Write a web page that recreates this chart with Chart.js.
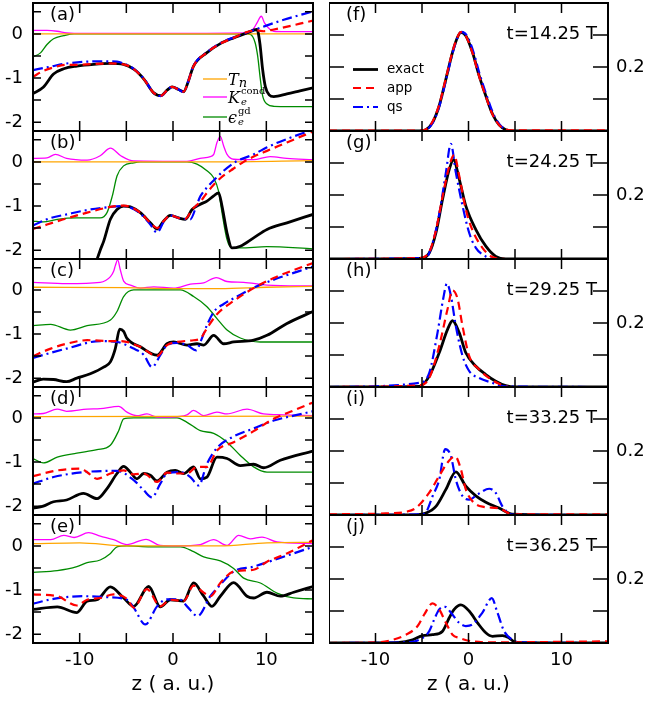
<!DOCTYPE html>
<html lang="en">
<head>
<meta charset="UTF-8">
<title>exact / app / qs panels</title>
<script src="https://cdn.jsdelivr.net/npm/chart.js"></script>
<style>
  body { margin: 0; background: #fff; width: 649px; height: 702px; position: relative; overflow: hidden; }
  canvas { position: absolute; }
</style>
</head>
<body>
<script>
// ---- left column (a)-(e): T_n, K_e^cond, eps_e^gd, exact, app, qs ----
const a_T_z = [-15, 15];
const a_T_y = [0, 0];
const a_K_z = [-15, -13.5, -12.4, -11.4, -10.6, -8, 0, 7.9, 8.6, 9.0, 9.46, 9.8, 10.4, 10.8, 12, 15];
const a_K_y = [0.08, 0.08, 0.06, 0.02, 0.01, 0.01, 0.01, 0.02, 0.11, 0.25, 0.40, 0.25, 0.1, 0.06, 0.05, 0.05];
const a_E_z = [-15, -14.2, -13.5, -12.8, -11.7, -10.6, 8.0, 8.3, 8.8, 9.07, 9.36, 9.6, 10.07, 10.8, 15];
const a_E_y = [-0.52, -0.43, -0.24, -0.11, -0.04, 0, 0, -0.01, -0.2, -0.5, -1.03, -1.4, -1.59, -1.64, -1.65];
const a_X_z = [-15, -13.9, -12.8, -11.7, -10.3, -8.5, -6.7, -5.3, -4.2, -3.1, -2.1, -1.3, -0.6, -0.1, 0.6, 1.14, 1.6, 2.2, 3.6, 5.07, 6.5, 7.9, 9.0, 9.3, 9.6, 9.9, 10.3, 10.8, 12.2, 13.6, 15];
const a_X_y = [-1.35, -1.21, -0.91, -0.79, -0.73, -0.69, -0.67, -0.69, -0.8, -1.03, -1.33, -1.40, -1.27, -1.2, -1.26, -1.31, -1.1, -0.73, -0.43, -0.22, -0.09, 0.02, 0.1, -0.2, -0.8, -1.2, -1.38, -1.42, -1.36, -1.29, -1.22];
const a_P_z = [-15, -13.9, -12.8, -11.4, -10.3, -8.5, -6.7, -5.3, -4.2, -3.1, -2.1, -1.3, -0.6, -0.1, 0.6, 1.14, 1.6, 2.2, 3.6, 5.07, 6.5, 7.9, 9.0, 9.7, 10.8, 15];
const a_P_y = [-0.97, -0.84, -0.76, -0.70, -0.70, -0.68, -0.67, -0.69, -0.8, -1.03, -1.33, -1.40, -1.27, -1.2, -1.26, -1.31, -1.1, -0.73, -0.43, -0.22, -0.09, 0.04, 0.08, 0.06, 0.10, 0.30];
const a_Q_z = [-15, -13.1, -11.4, -7.8, -6.0, -5.3, -4.2, -3.1, -2.1, -1.3, -0.6, -0.1, 0.6, 1.14, 1.6, 2.2, 3.6, 5.07, 6.5, 7.9, 9.36, 11.86, 15];
const a_Q_y = [-0.82, -0.74, -0.67, -0.62, -0.63, -0.67, -0.79, -1.02, -1.33, -1.41, -1.27, -1.2, -1.26, -1.32, -1.1, -0.72, -0.42, -0.21, -0.08, 0.03, 0.14, 0.32, 0.51];

const b_T_z = [-15, 5, 15];
const b_T_y = [0, 0, 0.03];
const b_K_z = [-15, -13.5, -12.6, -11.4, -9.2, -7.8, -6.7, -5.6, -4.2, 1.5, 2.9, 4.0, 4.36, 4.71, 5.07, 5.43, 5.79, 6.5, 8.6, 10.4, 12.2, 15];
const b_K_y = [0.08, 0.09, 0.17, 0.08, 0.04, 0.14, 0.31, 0.14, 0.02, 0.01, 0.08, 0.12, 0.17, 0.44, 0.58, 0.36, 0.17, 0.06, 0.05, 0.12, 0.08, 0.05];
const b_E_z = [-15, -13.9, -12.4, -10.3, -7.8, -7.07, -6.5, -6.0, -5.3, -4.2, -3.5, 1.5, 2.57, 3.64, 4.36, 4.89, 5.25, 5.79, 6.32, 7.21, 10.07, 15];
const b_E_y = [-1.34, -1.36, -1.3, -1.27, -1.27, -1.15, -0.77, -0.32, -0.09, -0.02, 0, 0, -0.05, -0.2, -0.36, -0.67, -1.15, -1.76, -1.95, -1.95, -1.92, -1.97];
const b_X_z = [-8.9, -7.8, -7.43, -6.71, -6.0, -5.29, -4.57, -3.5, -2.43, -1.71, -1.0, -0.29, 0.61, 1.32, 2.04, 2.93, 3.64, 4.36, 4.89, 5.25, 5.79, 6.32, 7.21, 8.64, 10.07, 12.21, 15];
const b_X_y = [-2.7, -2.0, -1.8, -1.30, -1.08, -1.0, -1.02, -1.15, -1.38, -1.52, -1.34, -1.21, -1.27, -1.3, -1.08, -0.96, -0.89, -0.77, -0.70, -1.0, -1.61, -1.95, -1.91, -1.72, -1.53, -1.38, -1.19];
const b_P_z = [-15, -13.5, -11.4, -9.2, -6.7, -5.29, -4.57, -3.5, -2.43, -1.71, -1.0, -0.29, 0.61, 1.32, 2.04, 2.93, 3.64, 4.36, 5.07, 6.5, 7.57, 8.64, 10.07, 12.21, 15];
const b_P_y = [-1.52, -1.42, -1.28, -1.15, -1.02, -0.99, -1.02, -1.15, -1.38, -1.5, -1.34, -1.21, -1.27, -1.29, -1.08, -0.9, -0.7, -0.52, -0.37, -0.15, 0.0, 0.12, 0.25, 0.44, 0.69];
const b_Q_z = [-15, -13.1, -11.4, -9.2, -6.7, -5.29, -4.57, -3.5, -2.43, -1.71, -1.0, -0.29, 0.61, 1.86, 2.5, 2.93, 3.64, 4.36, 5.43, 6.7, 8.64, 10.07, 12.21, 14.18, 15];
const b_Q_y = [-1.44, -1.27, -1.19, -1.09, -1.02, -1.0, -1.03, -1.17, -1.42, -1.6, -1.36, -1.21, -1.27, -1.3, -1.0, -0.78, -0.58, -0.42, -0.2, 0.0, 0.17, 0.33, 0.52, 0.67, 0.73];

const c_T_z = [-15, -5, 0, 5, 10, 15];
const c_T_y = [0.06, 0.05, 0.03, 0.03, 0.06, 0.08];
const c_K_z = [-15, -11.4, -7.8, -6.7, -6.36, -6.18, -5.93, -5.64, -5.29, -4.57, -3.5, -2.07, 0.07, 1.86, 3.29, 4.64, 5.79, 7.57, 10.07, 15];
const c_K_y = [0.17, 0.14, 0.17, 0.3, 0.42, 0.55, 0.68, 0.45, 0.2, 0.11, 0.04, 0.07, 0.04, 0.13, 0.16, 0.28, 0.19, 0.17, 0.11, 0.09];
const c_E_z = [-15, -13.1, -11.0, -9.2, -6.7, -6.0, -5.29, -4.21, 0.79, 2.21, 3.64, 4.71, 5.79, 7.21, 9.36, 15];
const c_E_y = [-0.81, -0.78, -0.91, -0.81, -0.68, -0.49, -0.15, 0, 0, -0.15, -0.38, -0.65, -0.91, -1.09, -1.18, -1.18];
const c_X_z = [-15, -13.9, -12.8, -11.4, -10.3, -8.86, -7.43, -6.71, -6.18, -5.71, -5.29, -4.93, -3.5, -1.71, -0.64, 0.07, 1.5, 2.57, 3.29, 4.36, 5.43, 6.5, 8.64, 10.07, 12.21, 15];
const c_X_y = [-2.09, -2.02, -2.03, -2.08, -2.0, -1.9, -1.75, -1.63, -1.33, -0.89, -0.94, -1.1, -1.29, -1.48, -1.22, -1.18, -1.25, -1.22, -1.25, -1.03, -1.22, -1.18, -1.14, -1.03, -0.76, -0.49];
const c_P_z = [-15, -13.1, -11.4, -9.2, -6.7, -5.64, -3.5, -1.71, -0.64, 0.43, 2.21, 2.93, 3.64, 4.71, 6.5, 8.64, 10.79, 15];
const c_P_y = [-1.5, -1.33, -1.22, -1.14, -1.16, -1.16, -1.29, -1.5, -1.25, -1.18, -1.14, -1.1, -0.87, -0.55, -0.25, 0.04, 0.27, 0.61];
const c_Q_z = [-15, -11.4, -7.8, -6.0, -4.21, -3.14, -2.25, -1.36, -0.64, 0.43, 1.5, 2.5, 3.0, 3.64, 4.36, 5.43, 6.86, 8.64, 10.79, 15];
const c_Q_y = [-1.54, -1.33, -1.16, -1.18, -1.33, -1.47, -1.75, -1.48, -1.25, -1.2, -1.25, -1.37, -1.15, -0.8, -0.5, -0.32, -0.15, 0.05, 0.23, 0.53];

const d_T_z = [-15, 15];
const d_T_y = [0.03, 0.04];
const d_K_z = [-15, -13.9, -12.4, -11.4, -9.2, -7.8, -5.82, -4.93, -3.86, -2.79, -1.71, -0.29, 1.5, 2.21, 3.29, 4.71, 5.79, 7.93, 9.71, 11.86, 15];
const d_K_y = [0.09, 0.1, 0.2, 0.15, 0.2, 0.21, 0.26, 0.13, 0.05, 0.09, 0.02, 0.02, 0.07, 0.17, 0.05, 0.13, 0.09, 0.2, 0.09, 0.07, 0.05];
const d_E_z = [-15, -13.9, -12.4, -10.3, -8.14, -6.71, -5.82, -5.29, -4.21, 0.43, 1.5, 2.93, 4.36, 5.79, 7.21, 8.64, 10.07, 15];
const d_E_y = [-0.92, -1.02, -0.89, -0.8, -0.72, -0.62, -0.29, -0.02, 0, 0, -0.1, -0.29, -0.35, -0.55, -0.85, -1.11, -1.23, -1.23];
const d_X_z = [-15, -13.9, -12.8, -11.4, -9.6, -8.14, -7.07, -6.0, -5.29, -4.57, -3.86, -3.14, -2.43, -1.71, -0.64, 0.25, 1.14, 2.21, 2.93, 3.64, 4.71, 5.79, 7.21, 8.64, 9.71, 11.5, 15];
const d_X_y = [-2.05, -2.0, -1.9, -1.86, -1.71, -1.83, -1.6, -1.26, -1.1, -1.23, -1.38, -1.26, -1.3, -1.43, -1.23, -1.19, -1.26, -1.11, -1.38, -1.34, -0.89, -0.92, -1.08, -1.05, -1.13, -0.96, -0.75];
const d_P_z = [-15, -12.4, -9.9, -9.2, -8.14, -6.71, -5.29, -4.21, -3.14, -1.71, -0.64, 0.43, 1.5, 2.57, 3.64, 4.71, 6.5, 8.64, 10.79, 12.93, 15];
const d_P_y = [-1.32, -1.19, -1.15, -1.23, -1.38, -1.26, -1.19, -1.28, -1.26, -1.45, -1.24, -1.26, -1.26, -1.11, -1.11, -0.74, -0.55, -0.3, -0.02, 0.17, 0.35];
const d_Q_z = [-15, -12.8, -9.6, -6.0, -4.21, -3.14, -2.25, -1.36, -0.64, 0.79, 1.86, 2.75, 3.64, 4.71, 6.5, 8.64, 10.79, 12.93, 15];
const d_Q_y = [-1.49, -1.34, -1.23, -1.2, -1.41, -1.64, -1.8, -1.49, -1.26, -1.23, -1.34, -1.53, -1.04, -0.68, -0.42, -0.24, -0.06, 0.05, 0.15];

const e_T_z = [-15, -10, -5, 0, 5, 10.07, 15];
const e_T_y = [0.05, 0.07, 0.0, 0.0, 0.0, 0.07, 0.08];
const e_K_z = [-15, -13.1, -11.7, -10.6, -9.04, -7.79, -6.36, -4.93, -2.89, -1.36, 0.43, 2.93, 4.36, 5.79, 7.04, 8.29, 9.54, 11.14, 15];
const e_K_y = [0.14, 0.14, 0.24, 0.19, 0.3, 0.22, 0.14, 0.03, 0.15, 0.01, 0, 0.03, 0.14, 0.01, 0.24, 0.16, 0.2, 0.09, 0.05];
const e_E_z = [-15, -12.4, -10.3, -9.2, -7.8, -6.7, -6.0, -4.93, -2.43, 0.79, 2.21, 3.29, 5.07, 6.5, 7.57, 9.36, 11.14, 12.93, 15];
const e_E_y = [-0.6, -0.56, -0.47, -0.38, -0.32, -0.17, -0.02, 0, -0.02, -0.02, -0.13, -0.25, -0.34, -0.51, -0.73, -0.84, -1.07, -1.18, -1.2];
const e_X_z = [-15, -12.4, -10.3, -9.2, -8.14, -6.71, -5.29, -4.21, -2.61, -1.36, -0.29, 1.14, 2.21, 3.29, 4.18, 5.07, 6.5, 7.93, 8.64, 10.07, 11.5, 12.93, 15];
const e_X_y = [-1.44, -1.38, -1.51, -1.25, -1.22, -0.93, -1.18, -1.37, -0.92, -1.38, -1.22, -1.25, -0.84, -1.14, -1.37, -1.14, -0.83, -1.14, -1.18, -1.05, -1.14, -1.05, -0.92];
const e_P_z = [-15, -12.4, -10.3, -9.2, -7.8, -6.36, -4.93, -4.21, -2.79, -1.36, -0.29, 1.14, 2.21, 3.29, 4.0, 5.07, 6.5, 8.64, 10.07, 12.21, 15];
const e_P_y = [-1.1, -1.14, -1.35, -1.22, -1.18, -1.1, -1.2, -1.4, -0.98, -1.37, -1.22, -1.25, -0.9, -1.06, -1.14, -0.84, -0.58, -0.54, -0.36, -0.17, 0.13];
const e_Q_z = [-15, -12.8, -9.6, -7.07, -4.93, -4.21, -2.96, -1.71, -0.64, 0.79, 1.5, 2.64, 4.0, 5.07, 6.5, 8.64, 10.79, 12.93, 15];
const e_Q_y = [-1.31, -1.2, -1.14, -1.16, -1.22, -1.4, -1.78, -1.37, -1.21, -1.22, -1.37, -1.59, -1.14, -0.88, -0.58, -0.47, -0.32, -0.17, -0.02];

// ---- right column (f)-(j): exact, app, qs densities ----
const f_X_z = [-15, -5.3, -4.58, -3.86, -3.15, -2.43, -1.72, -1.18, -0.82, -0.29, 0.43, 1.14, 1.86, 2.58, 3.29, 4.0, 4.7, 15];
const f_X_y = [0, 0, 0.004, 0.027, 0.079, 0.162, 0.246, 0.293, 0.308, 0.298, 0.246, 0.173, 0.11, 0.053, 0.019, 0.004, 0, 0];
const f_P_z = [-15, -5.3, -4.58, -3.86, -3.15, -2.43, -1.72, -1.18, -0.82, -0.29, 0.43, 1.14, 1.86, 2.58, 3.29, 4.0, 4.7, 15];
const f_P_y = [0.001, 0.001, 0.005, 0.03, 0.082, 0.165, 0.248, 0.294, 0.309, 0.297, 0.244, 0.171, 0.108, 0.052, 0.019, 0.005, 0.002, 0.002];
const f_Q_z = [-15, -5.3, -4.58, -3.86, -3.15, -2.43, -1.72, -1.18, -0.75, -0.22, 0.5, 1.2, 1.93, 2.65, 3.36, 4.1, 4.8, 15];
const f_Q_y = [0, 0, 0.003, 0.025, 0.076, 0.158, 0.243, 0.292, 0.31, 0.3, 0.25, 0.178, 0.113, 0.055, 0.02, 0.004, 0, 0];

const g_X_z = [-15, -5.29, -4.22, -3.5, -2.79, -2.07, -1.61, -1.0, -0.29, 0.79, 1.86, 2.93, 4.0, 15];
const g_X_y = [0, 0.002, 0.019, 0.082, 0.187, 0.28, 0.31, 0.25, 0.166, 0.092, 0.04, 0.008, 0, 0];
const g_P_z = [-15, -5.29, -4.22, -3.5, -2.79, -2.07, -1.54, -1.0, -0.29, 0.43, 1.5, 2.58, 4.0, 15];
const g_P_y = [0, 0.003, 0.022, 0.09, 0.195, 0.29, 0.325, 0.26, 0.155, 0.09, 0.035, 0.006, 0, 0];
const g_Q_z = [-15, -4.58, -3.86, -3.15, -2.43, -1.9, -1.36, -0.64, 0.07, 0.79, 1.86, 3.0, 15];
const g_Q_y = [0, 0.004, 0.05, 0.14, 0.27, 0.36, 0.27, 0.166, 0.082, 0.035, 0.008, 0, 0];

const h_X_z = [-15, -5.29, -4.22, -3.15, -2.25, -1.72, -1.0, -0.29, 0.79, 1.86, 2.93, 4.0, 5.08, 15];
const h_X_y = [0, 0.002, 0.034, 0.107, 0.18, 0.207, 0.17, 0.107, 0.065, 0.039, 0.018, 0.004, 0, 0];
const h_P_z = [-15, -5.29, -4.22, -3.15, -2.25, -1.72, -1.18, -0.64, 0.07, 1.14, 2.22, 3.29, 4.36, 15];
const h_P_y = [0, 0.005, 0.028, 0.128, 0.244, 0.302, 0.276, 0.19, 0.097, 0.055, 0.028, 0.01, 0, 0];
const h_Q_z = [-15, -5.29, -4.22, -3.33, -2.72, -2.32, -1.9, -1.36, -0.64, 0.07, 1.14, 2.58, 4.0, 15];
const h_Q_y = [0, 0.013, 0.044, 0.17, 0.276, 0.323, 0.286, 0.19, 0.097, 0.05, 0.028, 0.013, 0.002, 0];

const i_X_z = [-15, -6, -4.58, -3.5, -2.43, -1.36, -0.29, 0.79, 1.86, 3.29, 4.72, 15];
const i_X_y = [0, 0, 0.006, 0.027, 0.08, 0.135, 0.09, 0.06, 0.04, 0.022, 0.003, 0];
const i_P_z = [-15, -8.87, -6.72, -5.65, -4.22, -3.15, -2.25, -1.43, -0.82, -0.29, 0.43, 1.5, 3.29, 4.72, 15];
const i_P_y = [0.002, 0.005, 0.01, 0.022, 0.07, 0.122, 0.164, 0.183, 0.143, 0.08, 0.043, 0.026, 0.021, 0.002, 0.002];
const i_Q_z = [-15, -5.0, -4.5, -3.86, -3.15, -2.5, -1.9, -1.36, -0.64, 0.07, 0.97, 2.22, 2.93, 3.65, 4.72, 15];
const i_Q_y = [0, 0.002, 0.012, 0.059, 0.11, 0.206, 0.185, 0.11, 0.059, 0.048, 0.064, 0.082, 0.069, 0.027, 0.001, 0];

const j_X_z = [-15, -7.44, -6.01, -4.94, -3.86, -2.79, -2.07, -1.54, -0.82, 0.07, 0.97, 1.86, 2.58, 3.65, 4.36, 5.08, 15];
const j_X_y = [0, 0.002, 0.01, 0.023, 0.026, 0.037, 0.079, 0.105, 0.119, 0.1, 0.063, 0.032, 0.021, 0.023, 0.016, 0.002, 0];
const j_P_z = [-15, -9.94, -8.15, -6.72, -5.47, -4.76, -3.86, -3.15, -2.43, -1.72, -1.0, 0.43, 2.58, 15];
const j_P_y = [0, 0.002, 0.01, 0.026, 0.053, 0.089, 0.124, 0.105, 0.063, 0.026, 0.016, 0.005, 0.002, 0.005];
const j_Q_z = [-15, -6.72, -5.29, -4.22, -3.68, -3.15, -2.5, -1.9, -1.0, -0.29, 0.43, 1.5, 2.5, 3.11, 3.83, 4.72, 5.44, 15];
const j_Q_y = [0, 0.002, 0.01, 0.037, 0.074, 0.105, 0.113, 0.095, 0.063, 0.053, 0.058, 0.095, 0.14, 0.095, 0.037, 0.01, 0.002, 0];

const leftLabels = ['(a)', '(b)', '(c)', '(d)', '(e)'];
const rightLabels = ['(f)', '(g)', '(h)', '(i)', '(j)'];
const times = ['14.25', '24.25', '29.25', '33.25', '36.25'];
const xTickLabels = [-10, 0, 10];
const leftYLabels = [-2, -1, 0];
const rightYLabels = [0.2];

const FAM = '"DejaVu Sans", sans-serif';
const SERIF = '"DejaVu Serif", serif';
const PAD = 26;   // room above/below each plot box inside its canvas

const STY = {
    exact: {borderColor: '#000000', borderWidth: 2.8},
    app: {borderColor: '#ff0000', borderWidth: 2.2, borderDash: [8, 5]},
    qs: {borderColor: '#0000ff', borderWidth: 2.2, borderDash: [10, 4, 2, 4]},
    T: {borderColor: '#ffa500', borderWidth: 1.3},
    K: {borderColor: '#ff00ff', borderWidth: 1.3},
    E: {borderColor: '#008b00', borderWidth: 1.3}
};

function ds(name, zs, ys) {
    const pts = zs.map((z, i) => ({x: z, y: ys[i]}));
    return Object.assign({label: name, data: pts, pointRadius: 0, fill: false,
        cubicInterpolationMode: 'monotone'}, STY[name]);
}

// italic symbol with an optional superscript and subscript stacked after it
function mathLabel(ctx, x, y, main, sup, sub) {
    ctx.textAlign = 'left';
    ctx.textBaseline = 'alphabetic';
    ctx.font = 'italic 16px ' + SERIF;
    ctx.fillText(main, x, y + 6);
    const w = ctx.measureText(main).width;
    if (sup) {
        ctx.font = '10px ' + SERIF;
        ctx.fillText(sup, x + w + 1, y - 3);
    }
    if (sub) {
        ctx.font = sup ? 'italic 10px ' + SERIF : 'italic 13px ' + SERIF;
        ctx.fillText(sub, x + w + (sup ? 1 : 0), y + (sup ? 7.5 : 8));
    }
}

function sample(ctx, x0, x1, y, sty) {
    ctx.save();
    ctx.strokeStyle = sty.borderColor;
    ctx.lineWidth = sty.borderWidth;
    ctx.setLineDash(sty.borderDash || []);
    ctx.beginPath();
    ctx.moveTo(x0, y);
    ctx.lineTo(x1, y);
    ctx.stroke();
    ctx.restore();
}

// inward ticks on all four sides, the frame and the in-panel texts
const frame = {
    id: 'frame',
    afterDraw(chart, args, o) {
        const {ctx, chartArea: a, scales: {x, y}} = chart;
        ctx.save();
        ctx.strokeStyle = '#000';
        ctx.lineWidth = 1.5;
        ctx.beginPath();
        for (const v of [-10, -5, 0, 5, 10]) {
            const px = x.getPixelForValue(v);
            ctx.moveTo(px, a.bottom); ctx.lineTo(px, a.bottom - o.xl);
            ctx.moveTo(px, a.top); ctx.lineTo(px, a.top + o.xl);
        }
        for (const v of o.yt) {
            const py = y.getPixelForValue(v);
            ctx.moveTo(a.left, py); ctx.lineTo(a.left + o.yl, py);
            ctx.moveTo(a.right, py); ctx.lineTo(a.right - o.yl, py);
        }
        ctx.stroke();
        ctx.lineWidth = 2;
        ctx.strokeRect(a.left, a.top, a.right - a.left, a.bottom - a.top);

        ctx.fillStyle = '#000';
        ctx.font = '18px ' + FAM;
        ctx.textBaseline = 'middle';
        ctx.textAlign = 'left';
        ctx.fillText(o.label, a.left + 17, a.top + 12);
        if (o.time) {
            ctx.textAlign = 'right';
            ctx.fillText('t=' + o.time + ' T', a.right - 11, a.top + 31);
        }
        if (o.legend === 'left') {
            const lx = a.left + 170;
            sample(ctx, lx, lx + 24, a.top + 76, STY.T);
            sample(ctx, lx, lx + 24, a.top + 94, STY.K);
            sample(ctx, lx, lx + 24, a.top + 114, STY.E);
            mathLabel(ctx, lx + 25, a.top + 76, 'T', null, 'n');
            mathLabel(ctx, lx + 25, a.top + 94, 'K', 'cond', 'e');
            mathLabel(ctx, lx + 25, a.top + 114, 'ϵ', 'gd', 'e');
        }
        if (o.legend === 'right') {
            const lx = a.left + 24;
            const rows = [['exact', 66.5], ['app', 85], ['qs', 104]];
            ctx.font = '13.5px ' + FAM;
            ctx.textAlign = 'left';
            ctx.textBaseline = 'middle';
            for (const [name, dy] of rows) {
                sample(ctx, lx, lx + 25, a.top + dy, STY[name]);
                ctx.fillText(name, lx + 34, a.top + dy);
            }
        }
        ctx.restore();
    }
};

function addCanvas(left, top, w, h) {
    const cv = document.createElement('canvas');
    cv.width = w;
    cv.height = h;
    cv.style.left = left + 'px';
    cv.style.top = top + 'px';
    cv.style.width = w + 'px';
    cv.style.height = h + 'px';
    document.body.appendChild(cv);
    return cv;
}

function xAxis(last) {
    return {
        type: 'linear', min: -15, max: 15, display: last,
        afterBuildTicks: s => { s.ticks = xTickLabels.map(v => ({value: v})); },
        afterFit: s => { s.height = last ? 59 : 0; },
        grid: {display: false, drawTicks: false},
        border: {display: false},
        ticks: {font: {family: FAM, size: 18}, color: '#000', padding: 7, maxRotation: 0, autoSkip: false},
        title: {display: true, text: 'z ( a. u.)', color: '#000', font: {family: FAM, size: 20},
            padding: {top: 0, bottom: 5}}
    };
}

function panel(col, i, sets) {
    const last = i === 4;
    const top = 3 + 128 * i;
    const h = PAD + 128 + (last ? 59 : PAD);
    const left = col === 0;
    const cv = left ? addCanvas(0, top - PAD, 325, h) : addCanvas(329, top - PAD, 320, h);
    new Chart(cv, {
        type: 'line',
        data: {datasets: sets},
        options: {
            responsive: false,
            maintainAspectRatio: false,
            animation: false,
            events: [],
            layout: {padding: {top: PAD, right: left ? 12 : 0, bottom: last ? 0 : PAD, left: 0}},
            plugins: {
                legend: {display: false},
                tooltip: {enabled: false},
                frame: left
                    ? {label: leftLabels[i], time: null, legend: i === 0 ? 'left' : null,
                       yt: [-2, -1.5, -1, -0.5, 0, 0.5], yl: 8, xl: 10}
                    : {label: rightLabels[i], time: times[i], legend: i === 0 ? 'right' : null,
                       yt: [0.1, 0.2, 0.3], yl: 15, xl: 10}
            },
            scales: {
                x: xAxis(last),
                y: {
                    position: left ? 'left' : 'right',
                    min: left ? -2.2 : 0,
                    max: left ? 0.7 : 0.4,
                    afterBuildTicks: s => { s.ticks = (left ? leftYLabels : rightYLabels).map(v => ({value: v})); },
                    afterFit: s => { s.width = left ? 33 : 41; },
                    grid: {display: false, drawTicks: false},
                    border: {display: false},
                    ticks: {font: {family: FAM, size: 18}, color: '#000', padding: left ? 10 : 8,
                        callback: v => String(v)}
                }
            }
        },
        plugins: [frame]
    });
}

panel(0, 0, [ds('app', a_P_z, a_P_y), ds('qs', a_Q_z, a_Q_y), ds('exact', a_X_z, a_X_y),
    ds('T', a_T_z, a_T_y), ds('K', a_K_z, a_K_y), ds('E', a_E_z, a_E_y)]);
panel(0, 1, [ds('app', b_P_z, b_P_y), ds('qs', b_Q_z, b_Q_y), ds('exact', b_X_z, b_X_y),
    ds('T', b_T_z, b_T_y), ds('K', b_K_z, b_K_y), ds('E', b_E_z, b_E_y)]);
panel(0, 2, [ds('app', c_P_z, c_P_y), ds('qs', c_Q_z, c_Q_y), ds('exact', c_X_z, c_X_y),
    ds('T', c_T_z, c_T_y), ds('K', c_K_z, c_K_y), ds('E', c_E_z, c_E_y)]);
panel(0, 3, [ds('app', d_P_z, d_P_y), ds('qs', d_Q_z, d_Q_y), ds('exact', d_X_z, d_X_y),
    ds('T', d_T_z, d_T_y), ds('K', d_K_z, d_K_y), ds('E', d_E_z, d_E_y)]);
panel(0, 4, [ds('app', e_P_z, e_P_y), ds('qs', e_Q_z, e_Q_y), ds('exact', e_X_z, e_X_y),
    ds('T', e_T_z, e_T_y), ds('K', e_K_z, e_K_y), ds('E', e_E_z, e_E_y)]);

panel(1, 0, [ds('app', f_P_z, f_P_y), ds('qs', f_Q_z, f_Q_y), ds('exact', f_X_z, f_X_y)]);
panel(1, 1, [ds('app', g_P_z, g_P_y), ds('qs', g_Q_z, g_Q_y), ds('exact', g_X_z, g_X_y)]);
panel(1, 2, [ds('app', h_P_z, h_P_y), ds('qs', h_Q_z, h_Q_y), ds('exact', h_X_z, h_X_y)]);
panel(1, 3, [ds('app', i_P_z, i_P_y), ds('qs', i_Q_z, i_Q_y), ds('exact', i_X_z, i_X_y)]);
panel(1, 4, [ds('app', j_P_z, j_P_y), ds('qs', j_Q_z, j_Q_y), ds('exact', j_X_z, j_X_y)]);
</script>
</body>
</html>
